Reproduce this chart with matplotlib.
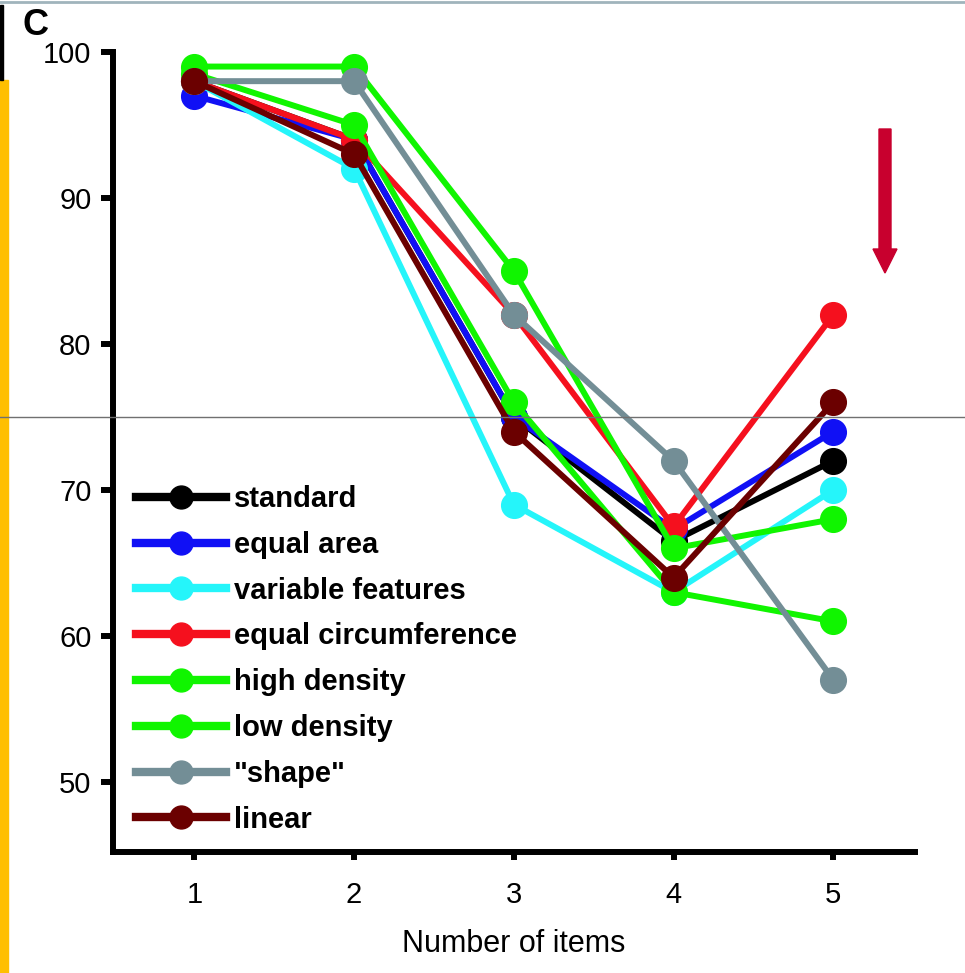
import numpy as np
import matplotlib.pyplot as plt
from matplotlib.lines import Line2D
from matplotlib.patches import Rectangle, FancyArrow

plt.rcParams['font.family'] = ['Liberation Sans', 'DejaVu Sans']

# data
items = [1, 2, 3, 4, 5]
standard = [98, 94, 75, 66.5, 72]
equal_area = [97, 94, 75, 67.3, 74]
variable_features = [98, 92, 69, 63, 70]
equal_circumference = [98, 94, 82, 67.5, 82]
high_density = [99, 99, 85, 66, 68]
low_density = [98.5, 95, 76, 63, 61]
shape = [98, 98, 82, 72, 57]
linear = [98, 93, 74, 64, 76]

labels = ['standard', 'equal area', 'variable features', 'equal circumference',
          'high density', 'low density', '"shape"', 'linear']
colors = ['#000000', '#1010f5', '#25f5fa', '#f5101e',
          '#10f500', '#10f500', '#738e96', '#6b0000']
series = [standard, equal_area, variable_features, equal_circumference,
          high_density, low_density, shape, linear]

fig = plt.figure(figsize=(9.65, 9.73), dpi=100)
ax = fig.add_axes([0.117, 0.1243, 0.831, 0.8223])

for vals, lab, col in zip(series, labels, colors):
    ax.plot(items, vals, '-o', color=col, lw=4.3, ms=18.5, label=lab, clip_on=False)

ax.set_xlim(0.49, 5.51)
ax.set_ylim(45.2, 100)
ax.set_xticks(items)
ax.set_yticks([50, 60, 70, 80, 90, 100])
for s in ['top', 'right']:
    ax.spines[s].set_visible(False)
for s in ['left', 'bottom']:
    ax.spines[s].set_linewidth(4.3)
ax.tick_params(axis='y', length=8.5, width=4.3, pad=7, labelsize=21)
ax.tick_params(axis='x', length=6, width=4.3, pad=15, labelsize=21)
ax.set_xlabel('Number of items', fontsize=22, labelpad=14)

handles = [Line2D([0], [0], color=c, lw=6, marker='o', ms=16.5) for c in colors]
leg = ax.legend(handles, labels, loc='upper left',
                bbox_to_anchor=(136 / 965, 1 - 485 / 973),
                bbox_transform=fig.transFigure, borderpad=0, borderaxespad=0,
                frameon=False, handlelength=3.1, handletextpad=0.25,
                labelspacing=0.61, prop={'size': 21, 'weight': 'bold'})

# panel letter
fig.text(0.037, 0.974, 'C', fontsize=26, fontweight='bold', ha='center', va='center')

# red arrow at right
fig.patches.append(FancyArrow(885 / 965, 1 - 129 / 973, 0, -144 / 973,
                              width=12 / 965, head_width=24 / 965,
                              head_length=24 / 973, length_includes_head=True,
                              color='#c8002e', transform=fig.transFigure))

# screenshot edges
fig.patches.append(Rectangle((0, 0), 0.008, 0.918, color='#ffbf00',
                             transform=fig.transFigure))
fig.patches.append(Rectangle((0, 0.918), 0.003, 0.077, color='black',
                             transform=fig.transFigure))
fig.lines.append(Line2D([0, 1], [0.5714, 0.5714], color='#707070', lw=1,
                        transform=fig.transFigure))
fig.lines.append(Line2D([0, 1], [0.998, 0.998], color='#a0b4bc', lw=2,
                        transform=fig.transFigure))

fig.savefig('out.png', dpi=100)
